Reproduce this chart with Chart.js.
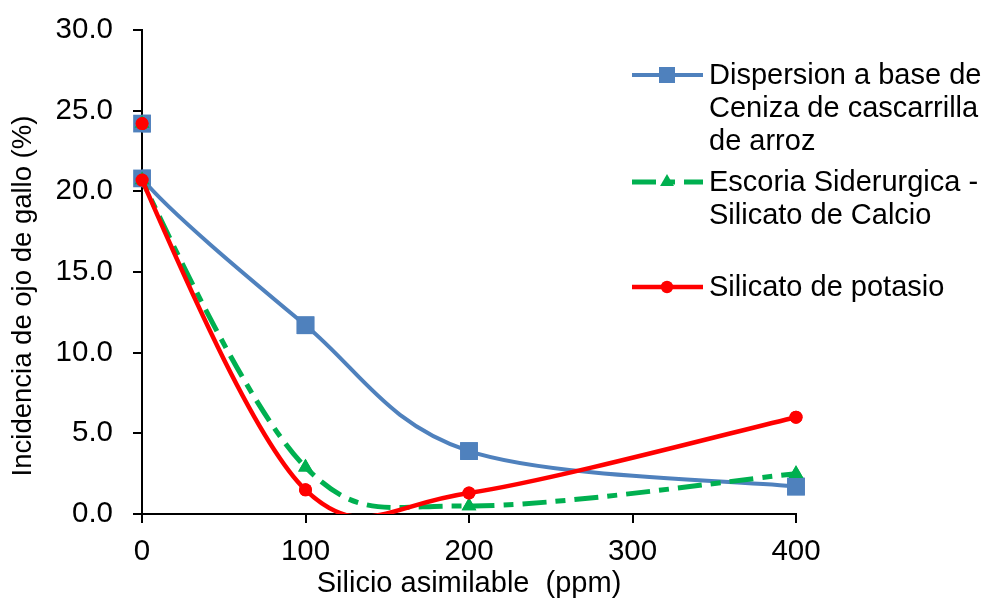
<!DOCTYPE html>
<html>
<head>
<meta charset="utf-8">
<script src="https://cdn.jsdelivr.net/npm/chart.js@4.4.1/dist/chart.umd.min.js"></script>
<style>
  html, body { margin: 0; padding: 0; background: #fff; }
</style>
</head>
<body>
<canvas id="incidenciaChart" width="988" height="610"></canvas>
<script>
// Datos
const silicio = [0, 0, 100, 200, 400];
const dispersionCeniza = [24.2, 20.8, 11.7, 3.9, 1.7];
const escoriaSiderurgica = [24.2, 20.7, 2.9, 0.5, 2.5];
const silicatoPotasio = [24.2, 20.7, 1.5, 1.3, 6.0];
const xTicks = [0, 100, 200, 300, 400];
const yTicks = [0, 5, 10, 15, 20, 25, 30];
const legendLabels = [
    ['Dispersion a base de', 'Ceniza de cascarrilla', 'de arroz'],
    ['Escoria Siderurgica -', 'Silicato de Calcio'],
    ['Silicato de potasio']
];
const yTitle = 'Incidencia de ojo de gallo (%)';

const FONT = "'Liberation Sans', Arial, sans-serif";
const clipBox = { left: 0, top: false, right: false, bottom: 0 };

function toPoints(values) {
    return silicio.map((x, i) => ({ x: x, y: values[i] }));
}

// Suavizado tipo Excel: puntos de control a 1/6 de la cuerda vecina
const excelSmooth = {
    id: 'excelSmooth',
    beforeDatasetDraw(chart, args) {
        const line = args.meta.dataset;
        line.updateControlPoints(chart.chartArea, 'x');
        const pts = args.meta.data;
        pts.forEach((p, i) => {
            const prev = pts[i - 1] || p;
            const next = pts[i + 1] || p;
            const dx = (next.x - prev.x) / 6;
            const dy = (next.y - prev.y) / 6;
            p.cp1x = p.x - dx;
            p.cp1y = p.y - dy;
            p.cp2x = p.x + dx;
            p.cp2y = p.y + dy;
        });
    },
    afterDatasetDraw(chart, args) {
        // los marcadores no se recortan, solo la linea
        args.meta.data.forEach(p => p.draw(chart.ctx, chart.chartArea));
    }
};

// Leyenda a la derecha con etiquetas de varias lineas + titulo del eje Y
const sideLegend = {
    id: 'sideLegend',
    afterDraw(chart) {
        const ctx = chart.ctx;
        const rowY = [75, 182, 287];
        const lineH = 33;
        const legendSize = [11.3, 8, 6.2];
        ctx.save();
        chart.data.datasets.forEach((ds, i) => {
            const y = rowY[i];
            ctx.strokeStyle = ds.borderColor;
            ctx.lineWidth = ds.borderWidth;
            ctx.setLineDash(ds.borderDash || []);
            ctx.beginPath();
            ctx.moveTo(632, y);
            ctx.lineTo(703, y);
            ctx.stroke();
            ctx.setLineDash([]);
            ctx.fillStyle = ds.pointBackgroundColor;
            Chart.helpers.drawPoint(ctx, {
                pointStyle: ds.pointStyle,
                radius: legendSize[i],
                rotation: 0,
                borderWidth: 0
            }, 667, y);

            ctx.fillStyle = '#000';
            ctx.font = '29px ' + FONT;
            ctx.textAlign = 'left';
            ctx.textBaseline = 'middle';
            legendLabels[i].forEach((txt, j) => {
                ctx.fillText(txt, 709, y + 1 + j * lineH);
            });
        });

        ctx.translate(23, 296);
        ctx.rotate(-Math.PI / 2);
        ctx.font = '27.5px ' + FONT;
        ctx.textAlign = 'center';
        ctx.textBaseline = 'middle';
        ctx.fillStyle = '#000';
        ctx.fillText(yTitle, 0, 0);
        ctx.restore();
    }
};

const ctx = document.getElementById('incidenciaChart').getContext('2d');
new Chart(ctx, {
    type: 'line',
    data: {
        datasets: [{
            label: legendLabels[0].join(' '),
            data: toPoints(dispersionCeniza),
            borderColor: '#4F81BD',
            borderWidth: 4,
            pointStyle: 'rect',
            pointRadius: 12.5,
            pointBackgroundColor: '#4F81BD',
            pointBorderWidth: 0,
            tension: 0.4,
            clip: clipBox,
            order: 3
        }, {
            label: legendLabels[1].join(' '),
            data: toPoints(escoriaSiderurgica),
            borderColor: '#00B050',
            borderWidth: 5,
            borderDash: [24, 9, 10, 9],
            pointStyle: 'triangle',
            pointRadius: 8.5,
            pointBackgroundColor: '#00B050',
            pointBorderWidth: 0,
            tension: 0.4,
            clip: clipBox,
            order: 2
        }, {
            label: legendLabels[2].join(' '),
            data: toPoints(silicatoPotasio),
            borderColor: '#FF0000',
            borderWidth: 4.5,
            pointStyle: 'circle',
            pointRadius: 6.5,
            pointBackgroundColor: '#FF0000',
            pointBorderWidth: 0,
            tension: 0.4,
            clip: clipBox,
            order: 1
        }]
    },
    options: {
        responsive: false,
        devicePixelRatio: 1,
        animation: false,
        events: [],
        layout: {
            padding: { left: 0, right: 192, top: 30, bottom: 0 }
        },
        plugins: {
            legend: { display: false },
            tooltip: { enabled: false }
        },
        scales: {
            x: {
                type: 'linear',
                position: 'bottom',
                min: 0,
                max: 400,
                afterBuildTicks: s => { s.ticks = xTicks.map(v => ({ value: v })); },
                afterFit: s => { s.height = 96; },
                ticks: {
                    color: '#000',
                    font: { family: FONT, size: 29.5 },
                    padding: 11,
                    maxRotation: 0
                },
                grid: {
                    drawOnChartArea: false,
                    drawTicks: true,
                    tickLength: 9,
                    color: '#000',
                    lineWidth: 2
                },
                border: { display: true, color: '#000', width: 2 },
                title: {
                    display: true,
                    text: 'Silicio asimilable  (ppm)',
                    color: '#000',
                    font: { family: FONT, size: 29 },
                    padding: { top: 0, bottom: 9 }
                }
            },
            y: {
                min: 0,
                max: 30,
                afterBuildTicks: s => { s.ticks = yTicks.map(v => ({ value: v })); },
                afterFit: s => {
                    s.width = 142;
                    s.paddingTop = 0;
                    s.paddingBottom = 0;
                },
                ticks: {
                    color: '#000',
                    font: { family: FONT, size: 29.5 },
                    padding: 20,
                    callback: v => v.toFixed(1)
                },
                grid: {
                    drawOnChartArea: false,
                    drawTicks: true,
                    tickLength: 9,
                    color: '#000',
                    lineWidth: 2
                },
                border: { display: true, color: '#000', width: 2 },
                title: { display: false }
            }
        }
    },
    plugins: [excelSmooth, sideLegend]
});
</script>
</body>
</html>
